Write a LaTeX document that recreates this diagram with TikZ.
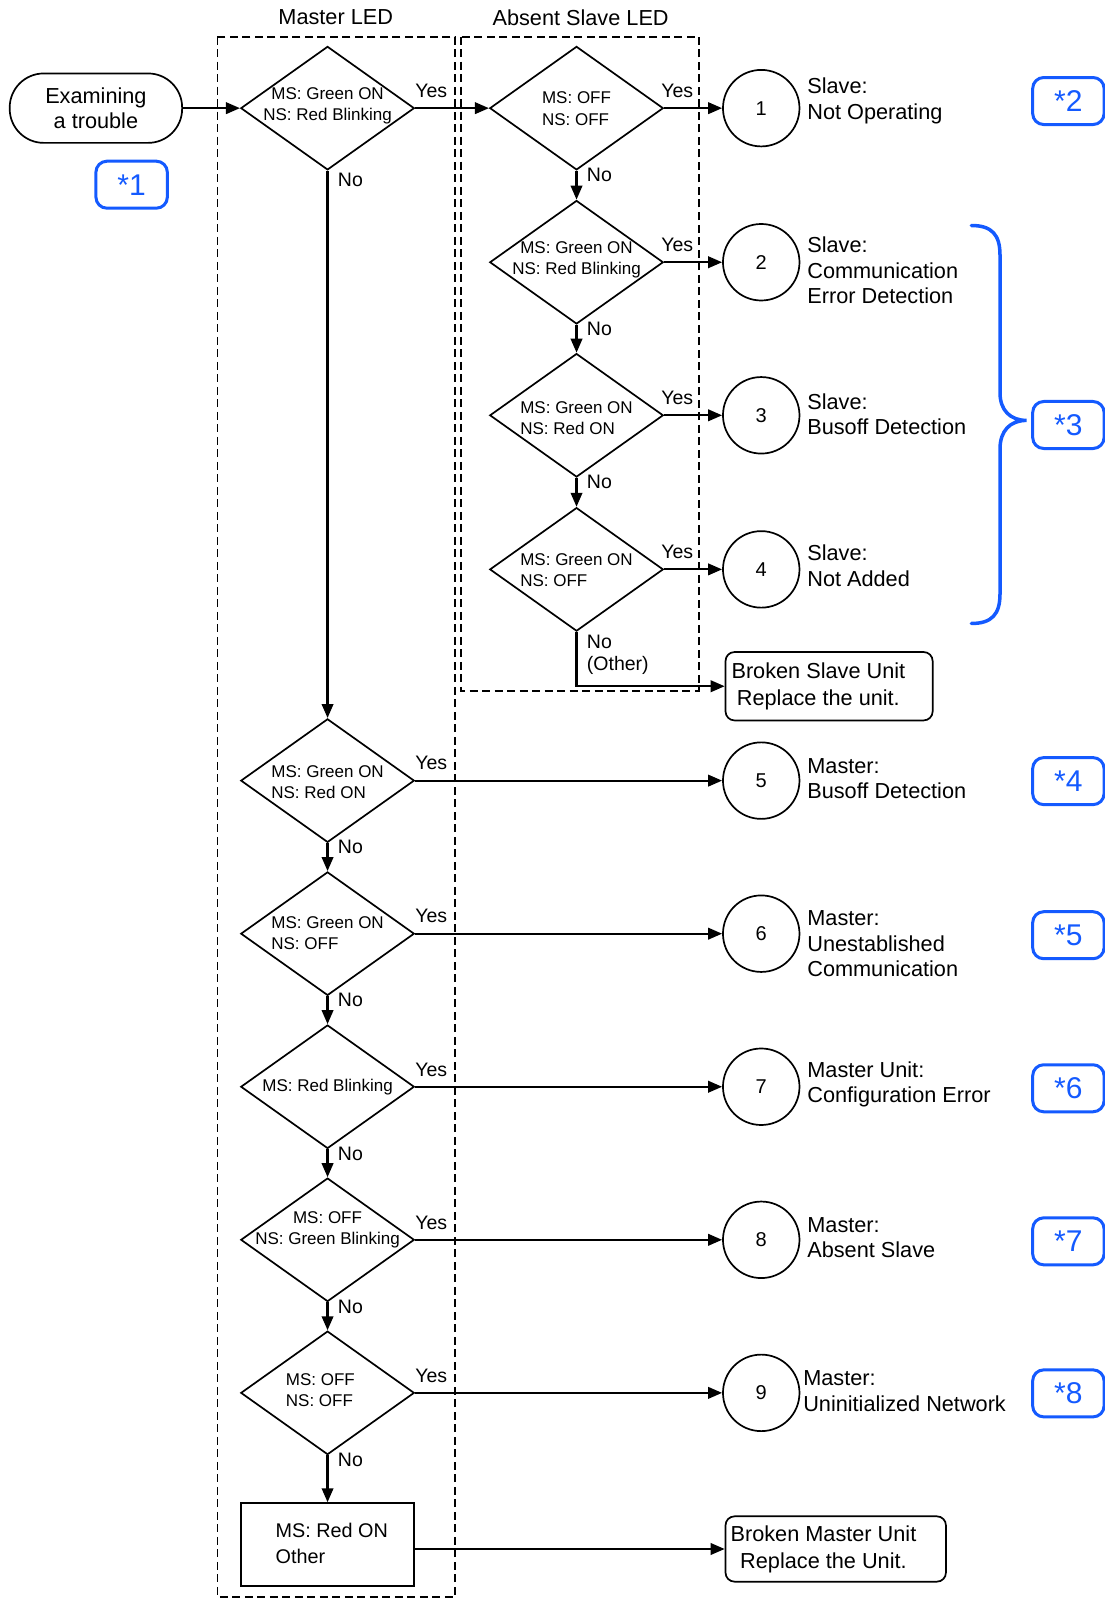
\documentclass[tikz,border=0pt]{standalone}
\usepackage{fontspec}
\setmainfont{Liberation Sans}
\usetikzlibrary{shapes.geometric,arrows.meta,calc}
\definecolor{tagblue}{RGB}{20,90,255}

\begin{document}
\begin{tikzpicture}[x=1.0203pt,y=-1.0203pt,
  flow/.style={line width=2.2pt,-{Triangle[length=14pt,width=11.5pt]}},
  lane/.style={dashed,dash pattern=on 8pt off 4.5pt,line width=1.6pt},
  test/.style={diamond,draw,line width=1.7pt,minimum width=173.5pt,minimum height=123.5pt,inner sep=0pt},
  dtext/.style={font=\fontsize{17}{21.4}\selectfont,inner sep=0pt},
  result/.style={circle,draw,line width=1.7pt,minimum size=76.5pt,inner sep=0pt,font=\fontsize{20}{23}\selectfont},
  desc/.style={anchor=west,align=left,inner sep=0pt,font=\fontsize{21.7}{25.5}\selectfont},
  yn/.style={inner sep=0pt,font=\fontsize{19.5}{22}\selectfont},
  endbox/.style={draw,line width=1.7pt,rounded corners=9pt},
  tag/.style={draw=tagblue,text=tagblue,line width=3pt,rounded corners=11pt,minimum width=71.4pt,minimum height=47pt,inner sep=0pt,font=\fontsize{30}{31}\selectfont},
  title/.style={inner sep=0pt,font=\fontsize{21.7}{25}\selectfont}
]
\useasboundingbox (0,0) rectangle (1082,1568);

% column headings and lanes
\node[title] (hmaster) at (329,17) {Master LED};
\node[title] (hslave) at (569,17) {Absent Slave LED};
\draw[lane] (213,36) rectangle (446,1565);
\draw[lane] (452,36) rectangle (685,677);

% start
\node[draw,line width=1.7pt,rounded corners=34pt,minimum width=172.4pt,minimum height=69.4pt,
      align=center,inner sep=0pt,font=\fontsize{21.7}{25.5}\selectfont] (start) at (94,106) {Examining\\a trouble};

% decisions, master column
\node[test] (d0) at (321,106) {};
\node[dtext,align=center] (d0t) at (321,103.5) {MS: Green ON\\NS: Red Blinking};
\node[test] (m1) at (321,765) {};
\node[dtext,align=left] (m1t) at (321,766.5) {MS: Green ON\\NS: Red ON};
\node[test] (m2) at (321,915) {};
\node[dtext,align=left] (m2t) at (321,914.5) {MS: Green ON\\NS: OFF};
\node[test] (m3) at (321,1065) {};
\node[dtext] (m3t) at (321,1065) {MS: Red Blinking};
\node[test] (m4) at (321,1215) {};
\node[dtext,align=center] (m4t) at (321,1205.5) {MS: OFF\\NS: Green Blinking};
\node[test] (m5) at (321,1365) {};
\node[dtext,align=left] (m5t) at (314,1362.5) {MS: OFF\\NS: OFF};
\node[draw,line width=1.7pt,minimum width=173.5pt,minimum height=82.6pt] (mbox) at (321,1513.5) {};
\node[anchor=west,align=left,inner sep=0pt,font=\fontsize{19.8}{25.5}\selectfont] (mboxt) at (270,1512.5) {MS: Red ON\\Other};

% decisions, slave column
\node[test] (s1) at (565,106) {};
\node[dtext,align=left] (s1t) at (565,106.5) {MS: OFF\\NS: OFF};
\node[test] (s2) at (565,257) {};
\node[dtext,align=center] (s2t) at (565,254.5) {MS: Green ON\\NS: Red Blinking};
\node[test] (s3) at (565,407) {};
\node[dtext,align=left] (s3t) at (565,409.5) {MS: Green ON\\NS: Red ON};
\node[test] (s4) at (565,558) {};
\node[dtext,align=left] (s4t) at (565,558.5) {MS: Green ON\\NS: OFF};

% results
\node[result] (c1) at (746,106) {1};
\node[result] (c2) at (746,257) {2};
\node[result] (c3) at (746,407) {3};
\node[result] (c4) at (746,558) {4};
\node[result] (c5) at (746,765) {5};
\node[result] (c6) at (746,915) {6};
\node[result] (c7) at (746,1065) {7};
\node[result] (c8) at (746,1215) {8};
\node[result] (c9) at (746,1365) {9};

\node[desc] (c1d) at (791,99) {Slave:\\Not Operating};
\node[desc] (c2d) at (791,265) {Slave:\\Communication\\Error Detection};
\node[desc] (c3d) at (791,406) {Slave:\\Busoff Detection};
\node[desc] (c4d) at (791,554.5) {Slave:\\Not Added};
\node[desc] (c5d) at (791,763) {Master:\\Busoff Detection};
\node[desc] (c6d) at (791,925) {Master:\\Unestablished\\Communication};
\node[desc] (c7d) at (791,1062.5) {Master Unit:\\Configuration Error};
\node[desc] (c8d) at (791,1213) {Master:\\Absent Slave};
\node[desc] (c9d) at (787,1363.5) {Master:\\Uninitialized Network};

% replacement boxes
\node[endbox,minimum width=207.1pt,minimum height=68.4pt] (bsu) at (812.5,672.5) {};
\node[align=center,inner sep=0pt,font=\fontsize{21.7}{27.5}\selectfont] (bsut) at (802,672.5) {Broken Slave Unit\\Replace the unit.};
\node[endbox,minimum width=220.4pt,minimum height=65.3pt] (bmu) at (819,1518) {};
\node[align=center,inner sep=0pt,font=\fontsize{21.7}{27.5}\selectfont] (bmut) at (807,1518.5) {Broken Master Unit\\Replace the Unit.};

% connectors
\draw[flow] (start.east) -- (d0.west);
\draw[flow] (d0.east) -- (s1.west);
\draw[flow] (d0.south) -- (m1.north);
\draw[flow] (s1.south) -- (s2.north);
\draw[flow] (s2.south) -- (s3.north);
\draw[flow] (s3.south) -- (s4.north);
\draw[flow] (s4.south) |- (bsu.west);
\draw[flow] (m1.south) -- (m2.north);
\draw[flow] (m2.south) -- (m3.north);
\draw[flow] (m3.south) -- (m4.north);
\draw[flow] (m4.south) -- (m5.north);
\draw[flow] (m5.south) -- (mbox.north);
\draw[flow] (mbox.east |- bmu.west) -- (bmu.west);
\foreach \d/\c in {s1/c1,s2/c2,s3/c3,s4/c4,m1/c5,m2/c6,m3/c7,m4/c8,m5/c9}
  \draw[flow] (\d.east) -- (\c.west);

% branch labels
\foreach \d in {d0,m1,m2,m3,m4,m5}
  \node[yn,anchor=west] (\d yes) at ($(\d.east)+(0,-17)$) {Yes};
\foreach \d in {s1,s2,s3,s4}
  \node[yn,anchor=west] (\d yes) at ($(\d.east)+(-3,-17)$) {Yes};
\node[yn,anchor=west] (d0no) at ($(d0.south)+(10,9)$) {No};
\foreach \d in {m1,m2,m3,m4,m5,s1,s2,s3}
  \node[yn,anchor=west] (\d no) at ($(\d.south)+(10,4)$) {No};
\node[yn,anchor=west,align=left] (s4no) at (575,642) {No\\(Other)};

% reference tags
\node[tag] (n1) at (129,181) {*1};
\node[tag] (n2) at (1047,99) {*2};
\node[tag] (n3) at (1047,416.5) {*3};
\node[tag] (n4) at (1047,765.5) {*4};
\node[tag] (n5) at (1047,916.5) {*5};
\node[tag] (n6) at (1047,1066.5) {*6};
\node[tag] (n7) at (1047,1216.5) {*7};
\node[tag] (n8) at (1047,1365.5) {*8};

% brace grouping results 2 to 4
\draw[tagblue,line width=3.5pt,line cap=round]
  (952,221) .. controls (972,221) and (980,230) .. (980,250) -- (980,385)
  .. controls (980,402) and (990,412) .. (1006,412)
  .. controls (990,412) and (980,422) .. (980,440) -- (980,582)
  .. controls (980,602) and (972,611) .. (952,611);
\end{tikzpicture}
\end{document}
